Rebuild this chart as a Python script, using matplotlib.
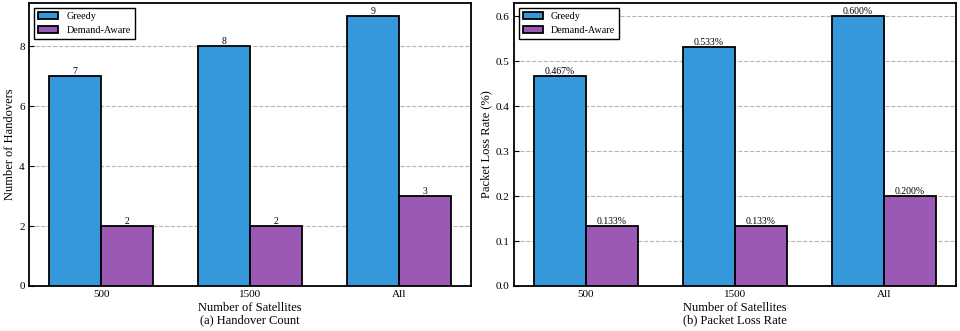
import numpy as np
import matplotlib.pyplot as plt

plt.rcParams['font.family'] = ['Liberation Serif', 'DejaVu Serif']

categories = ['500', '1500', 'All']
greedy_handovers = [7, 8, 9]
aware_handovers = [2, 2, 3]
greedy_loss = [0.467, 0.533, 0.600]
aware_loss = [0.133, 0.133, 0.200]

blue = '#3498db'
purple = '#9b59b6'
width = 0.35

fig = plt.figure(figsize=(9.6, 3.31), dpi=100)
ax1 = fig.add_axes([0.030, 0.136, 0.461, 0.855])
ax2 = fig.add_axes([0.535, 0.136, 0.461, 0.855])

x = np.arange(len(categories))


def draw(ax, g, d, fmt, ylabel, caption):
    b1 = ax.bar(x - width / 2, g, width, color=blue, edgecolor='black',
                linewidth=1.3, label='Greedy', zorder=3)
    b2 = ax.bar(x + width / 2, d, width, color=purple, edgecolor='black',
                linewidth=1.3, label='Demand-Aware', zorder=3)
    for bars, vals in ((b1, g), (b2, d)):
        for rect, v in zip(bars, vals):
            ax.text(rect.get_x() + rect.get_width() / 2, v, fmt.format(v),
                    ha='center', va='bottom', fontsize=7)
    ax.set_xticks(x)
    ax.set_xticklabels(categories)
    ax.set_ylim(0, max(g) * 1.05)
    ax.set_ylabel(ylabel, fontsize=9, labelpad=2)
    ax.set_xlabel('Number of Satellites\n' + caption, fontsize=9,
                  linespacing=1.0, labelpad=2)
    ax.yaxis.grid(True, linestyle='--', color='#b5b5b5', linewidth=0.8,
                  zorder=0)
    ax.set_axisbelow(True)
    ax.tick_params(direction='in', labelsize=8, pad=3)
    for s in ax.spines.values():
        s.set_linewidth(1.3)
    leg = ax.legend(loc='upper left', fontsize=7.3, fancybox=False,
                    edgecolor='black', framealpha=1, borderpad=0.4,
                    handlelength=2.0)
    leg.get_frame().set_linewidth(1.0)


draw(ax1, greedy_handovers, aware_handovers, '{:d}', 'Number of Handovers',
     '(a) Handover Count')
draw(ax2, greedy_loss, aware_loss, '{:.3f}%', 'Packet Loss Rate (%)',
     '(b) Packet Loss Rate')
ax1.set_yticks([0, 2, 4, 6, 8])

fig.savefig('out.png', dpi=100)
